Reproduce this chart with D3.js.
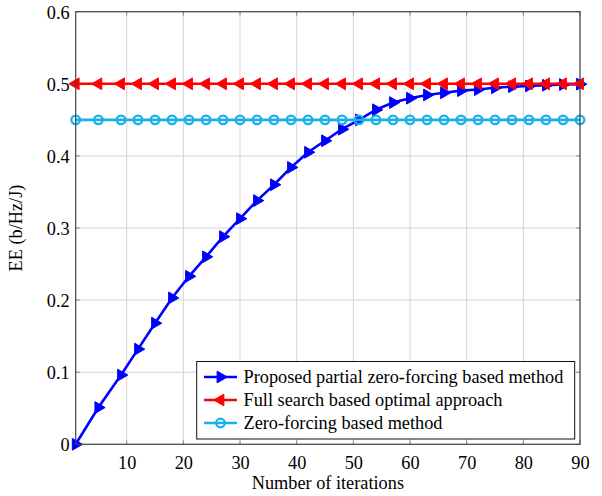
<!DOCTYPE html>
<html><head><meta charset="utf-8">
<script src="https://cdn.jsdelivr.net/npm/d3@7"></script>
<style>body{margin:0;background:#fff}svg{display:block}text{font-family:"Liberation Serif","Times New Roman",serif;fill:#000}</style>
</head><body><svg id="c" width="602" height="496"></svg>
<script>
const iterations = [1,5,9,12,15,18,21,24,27,30,33,36,39,42,45,48,51,54,57,60,63,66,69,72,75,78,81,84,87,90];
const proposedEE = [0,0.051,0.096,0.132,0.168,0.203,0.233,0.260,0.288,0.313,0.338,0.360,0.384,0.405,0.421,0.437,0.450,0.464,0.474,0.480,0.4845,0.4875,0.4905,0.492,0.4945,0.496,0.497,0.498,0.499,0.4995];
const fullSearchEE = iterations.map(() => 0.5);
const zeroForcingEE = iterations.map(() => 0.45);
const seriesNames = ["Proposed partial zero-forcing based method","Full search based optimal approach","Zero-forcing based method"];
const xTicks = [10,20,30,40,50,60,70,80,90];
const yTicks = [0,0.1,0.2,0.3,0.4,0.5,0.6];
const yTickLabels = ["0","0.1","0.2","0.3","0.4","0.5","0.6"];

const FS = 18.3;
const svg = d3.select("#c");
const L=75.7, R=580, T=11.7, B=444.3;
const x = d3.scaleLinear().domain([1,90]).range([L,R]);
const y = d3.scaleLinear().domain([0,0.6]).range([B,T]);

// grid
const g = svg.append("g");
g.selectAll(".vg").data(xTicks).join("line").attr("x1",d=>x(d)).attr("x2",d=>x(d)).attr("y1",T).attr("y2",B).attr("stroke","#d4d4d4").attr("stroke-width",1);
g.selectAll(".hg").data(yTicks).join("line").attr("y1",d=>y(d)).attr("y2",d=>y(d)).attr("x1",L).attr("x2",R).attr("stroke","#d4d4d4").attr("stroke-width",1);
// inner ticks
const tk=4;
xTicks.forEach(d=>{
  g.append("line").attr("x1",x(d)).attr("x2",x(d)).attr("y1",B).attr("y2",B-tk).attr("stroke","#888");
  g.append("line").attr("x1",x(d)).attr("x2",x(d)).attr("y1",T).attr("y2",T+tk).attr("stroke","#888");
});
yTicks.forEach(d=>{
  g.append("line").attr("y1",y(d)).attr("y2",y(d)).attr("x1",L).attr("x2",L+tk).attr("stroke","#888");
  g.append("line").attr("y1",y(d)).attr("y2",y(d)).attr("x1",R).attr("x2",R-tk).attr("stroke","#888");
});

const xa = svg.append("g").attr("transform",`translate(0,${B})`).call(d3.axisBottom(x).tickValues(xTicks).tickSize(0).tickPadding(8));
const ya = svg.append("g").attr("transform",`translate(${L},0)`).call(d3.axisLeft(y).tickValues(yTicks).tickFormat((d,i)=>yTickLabels[i]).tickSize(0).tickPadding(6));
[xa,ya].forEach(a=>{a.select(".domain").remove();a.selectAll("text").attr("font-size",FS).attr("font-family",'"Liberation Serif",serif').attr("fill","#000");});
xa.selectAll("text").attr("dy","0.9em");
ya.selectAll("text").attr("dy","0.35em");

svg.append("text").attr("x",(L+R)/2).attr("y",489).attr("text-anchor","middle").attr("font-size",FS).text("Number of iterations");
svg.append("text").attr("transform","translate(22,228) rotate(-90)").attr("text-anchor","middle").attr("font-size",FS).text("EE (b/Hz/J)");

const cols = ["#0000ff","#ff0000","#18b0ea"];
const line = d3.line().x(d=>x(d[0])).y(d=>y(d[1]));
const triR = d3.symbol().type(d3.symbolTriangle).size(60)();

function drawSeries(vals, col, kind){
  const pts = iterations.map((it,i)=>[it,vals[i]]);
  const s = svg.append("g");
  s.append("path").datum(pts).attr("d",line).attr("fill","none").attr("stroke",col).attr("stroke-width",2.6);
  drawMarkers(s, pts.map(p=>[x(p[0]),y(p[1])]), col, kind);
}
function drawMarkers(s, pxs, col, kind){
  pxs.forEach(([px,py])=>{
    if(kind==="circle"){
      s.append("circle").attr("cx",px).attr("cy",py).attr("r",4.3).attr("fill","none").attr("stroke",col).attr("stroke-width",2.3);
    } else {
      const rot = kind==="right"?90:-90;
      s.append("path").attr("d",triR).attr("transform",`translate(${px},${py}) rotate(${rot})`).attr("fill",col).attr("stroke",col).attr("stroke-width",1);
    }
  });
}
drawSeries(proposedEE, cols[0], "right");
drawSeries(fullSearchEE, cols[1], "left");
drawSeries(zeroForcingEE, cols[2], "circle");

svg.append("rect").attr("x",L).attr("y",T).attr("width",R-L).attr("height",B-T).attr("fill","none").attr("stroke","#444").attr("stroke-width",1.2);

const lg = svg.append("g");
lg.append("rect").attr("x",196.7).attr("y",361.5).attr("width",378).attr("height",77.5).attr("fill","#fff").attr("stroke","#111").attr("stroke-width",1);
const kinds=["right","left","circle"];
seriesNames.forEach((n,i)=>{
  const yy = 377 + i*23;
  lg.append("line").attr("x1",204).attr("x2",237).attr("y1",yy).attr("y2",yy).attr("stroke",cols[i]).attr("stroke-width",2.6);
  drawMarkers(lg, [[220.5,yy]], cols[i], kinds[i]);
  lg.append("text").attr("x",243.5).attr("y",yy).attr("dy","0.33em").attr("font-size",FS).text(n);
});
</script></body></html>
